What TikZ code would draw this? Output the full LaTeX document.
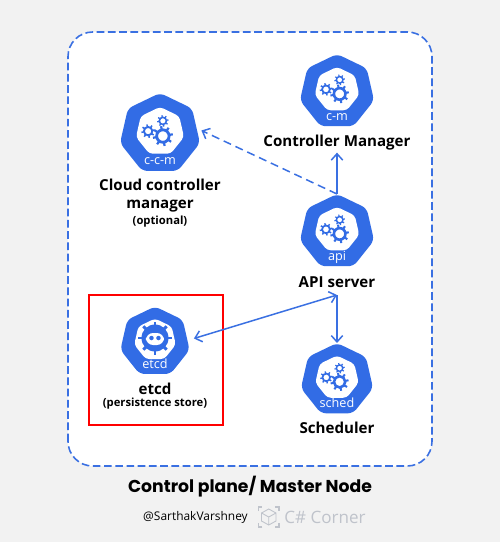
\documentclass[tikz,border=0pt]{standalone}
\usepackage{fontspec}
\setmainfont{Open Sans}
\newfontfamily\titlefont{Poppins}
\usepackage{xcolor}
\usetikzlibrary{shapes.geometric, positioning, arrows.meta}
\definecolor{kubeblue}{HTML}{326CE5}
\definecolor{linkblue}{HTML}{3A70E2}
\definecolor{pagegray}{HTML}{F2F2F2}
\definecolor{logogray}{HTML}{BFC3CB}
\tikzset{
    heptagon/.style={regular polygon, regular polygon sides=7, inner sep=0pt, outer sep=0pt},
    caption/.style={font=\bfseries\fontsize{8.6}{10.3}\selectfont, text=black, inner sep=0pt, align=center},
    smallnote/.style={font=\bfseries\fontsize{6.4}{8}\selectfont, text=black, inner sep=0pt},
    icontext/.style={font=\fontsize{7.2}{8}\selectfont, text=white, inner sep=0pt, anchor=base},
    link/.style={-{Straight Barb[length=3.6pt,width=6.5pt]}, linkblue, line width=0.85pt},
}
% one cog: centre x, centre y, radius
\newcommand{\cog}[3]{
    \foreach \a in {0,45,...,315} {
        \draw[kubeblue, line width=#3*0.22cm] ({#1+#3*0.65*cos(\a+10)},{#2+#3*0.65*sin(\a+10)}) -- ({#1+#3*cos(\a+10)},{#2+#3*sin(\a+10)});
    }
    \draw[kubeblue, line width=#3*0.28cm] (#1,#2) circle ({#3*0.62});
}
% blue heptagon with white window: name, x, y, radius, text
\newcommand{\kubebase}[5]{
    \node[heptagon, fill=kubeblue, minimum size=#4*2cm, rounded corners=3pt] (#1) at (#2,#3) {};
    \node[heptagon, fill=white, minimum size=#4*1.2cm, rounded corners=2pt] (#1win) at (#2,{#3+#4*0.06}) {};
    \node[icontext] (#1text) at (#2,{#3-#4*0.74}) {#5};
}
% same, with the three cogs
\newcommand{\kubeicon}[5]{
    \kubebase{#1}{#2}{#3}{#4}{#5}
    \cog{#2+#4*0.07}{#3-#4*0.05}{#4*0.245}
    \cog{#2-#4*0.29}{#3+#4*0.07}{#4*0.165}
    \cog{#2+#4*0.07}{#3+#4*0.32}{#4*0.14}
}

\begin{document}
\begin{tikzpicture}
\useasboundingbox (0,0) rectangle (10,10.84);
\fill[pagegray] (0,0) rectangle (10,10.84);

% Control plane frame
\draw[linkblue, fill=white, line width=0.9pt, rounded corners=14pt, dash pattern=on 4.4pt off 2pt] (1.36,1.52) rectangle (8.64,10.2);

% etcd frame
\draw[red, line width=0.9pt] (1.78,2.34) rectangle (4.46,4.94);

% Components
\kubeicon{ccm}{3.2}{8.16}{0.82}{c-c-m}
\kubeicon{cm}{6.74}{9}{0.76}{c-m}
\kubeicon{api}{6.74}{6.2}{0.76}{api}
\kubeicon{sched}{6.74}{3.24}{0.74}{sched}
\kubebase{etcd}{3.1}{4}{0.71}{etcd}

% etcd wheel and head
\foreach \a in {0,45,...,315} {
    \draw[kubeblue, line width=1.7pt] ({3.1+0.2*cos(\a)},{4.08+0.2*sin(\a)}) -- ({3.1+0.33*cos(\a)},{4.08+0.33*sin(\a)});
}
\fill[kubeblue] (3.1,4.08) circle (0.27);
\fill[white, rounded corners=4pt] (2.92,3.94) rectangle (3.28,4.18);
\fill[kubeblue] (3.03,4.08) circle (0.045);
\fill[kubeblue] (3.17,4.08) circle (0.045);

% Labels
\node[caption] (cmlabel) at (6.74,7.98) {Controller Manager};
\node[caption] (apilabel) at (6.74,5.2) {API server};
\node[caption] (schedlabel) at (6.74,2.28) {Scheduler};
\node[caption] (ccmlabel) at (3.2,6.92) {Cloud controller\\manager};
\node[smallnote] (ccmnote) at (3.2,6.4) {(optional)};
\node[caption] (etcdlabel) at (3.1,3.07) {etcd};
\node[smallnote] (etcdnote) at (3.1,2.76) {(persistence store)};
\node[font=\titlefont\bfseries\fontsize{9.8}{11}\selectfont, inner sep=0pt] (title) at (5,1.1) {Control plane/ Master Node};
\node[font=\fontsize{6.8}{8}\selectfont, inner sep=0pt] (handle) at (3.91,0.5) {@SarthakVarshney};
\node[font=\fontsize{9.7}{11}\selectfont, text=logogray, inner sep=0pt] (brand) at (6.5,0.5) {C\# Corner};

% Connectors
\coordinate (hub) at (6.74,4.94);
\draw[link] (api.north) -- ([yshift=-1pt]cmlabel.south);
\draw[link, dash pattern=on 4.6pt off 2.8pt] (api.north) -- ([shift={(2pt,2pt)}]ccm.east);
\draw[link] (hub) -- (sched.north);
\draw[link, {Straight Barb[length=3.6pt,width=6.5pt]}-{Straight Barb[length=3.6pt,width=6.5pt]}] ([shift={(3.5pt,2pt)}]etcd.east) -- (hub);

% Logo
\draw[logogray, line width=0.7pt] (5.17,0.62) -- (5.17,0.7) -- (5.25,0.7) (5.5,0.7) -- (5.58,0.7) -- (5.58,0.62)
    (5.58,0.38) -- (5.58,0.3) -- (5.5,0.3) (5.25,0.3) -- (5.17,0.3) -- (5.17,0.38);
\draw[logogray, line width=0.5pt] (5.375,0.66) -- (5.52,0.58) -- (5.52,0.42) -- (5.375,0.34) -- (5.23,0.42) -- (5.23,0.58) -- cycle
    (5.23,0.58) -- (5.375,0.5) -- (5.52,0.58) (5.375,0.5) -- (5.375,0.34);
\end{tikzpicture}
\end{document}
